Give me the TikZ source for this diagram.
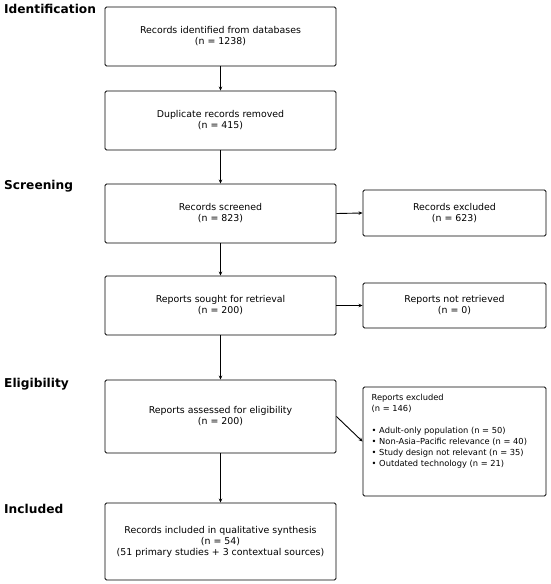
\documentclass[tikz,border=0pt]{standalone}
\usepackage{fontspec}
\setmainfont{DejaVu Sans}
\usetikzlibrary{arrows.meta}
\begin{document}
\begin{tikzpicture}[x=1pt,y=-1pt,
  box/.style={draw=black,line width=0.9pt,rounded corners=1.5pt,minimum width=231pt,align=center,inner sep=0pt,font=\fontsize{9.4}{11}\selectfont},
  sbox/.style={box,minimum width=183pt},
  arr/.style={-{Stealth[length=4pt,width=3.5pt]},line width=0.9pt},
  stage/.style={anchor=north west,inner sep=0pt,font=\fontsize{12.2}{14}\selectfont\bfseries}]
\useasboundingbox (0,0) rectangle (550,584);
\node[stage] (s1) at (4,4) {Identification};
\node[stage] (s2) at (4,180) {Screening};
\node[stage] (s3) at (4,378) {Eligibility};
\node[stage] (s4) at (4,504) {Included};

\node[box,minimum height=59pt] (b1) at (220.5,36.5) {Records identified from databases\\(n = 1238)};
\node[box,minimum height=59pt] (b2) at (220.5,120.5) {Duplicate records removed\\(n = 415)};
\node[box,minimum height=59pt] (b3) at (220.5,213.5) {Records screened\\(n = 823)};
\node[box,minimum height=59pt] (b4) at (220.5,305.5) {Reports sought for retrieval\\(n = 200)};
\node[box,minimum height=73pt] (b5) at (220.5,416.5) {Reports assessed for eligibility\\(n = 200)};
\node[box,minimum height=77pt] (b6) at (220.5,541.5) {Records included in qualitative synthesis\\(n = 54)\\(51 primary studies + 3 contextual sources)};

\node[sbox,minimum height=46pt] (r1) at (454.5,213) {Records excluded\\(n = 623)};
\node[sbox,minimum height=45pt] (r2) at (454.5,305.5) {Reports not retrieved\\(n = 0)};
\node[sbox,minimum height=109pt] (r3) at (454.5,441.5) {};
\node[anchor=north west,inner sep=0pt,align=left,font=\fontsize{8.3}{11}\selectfont] (r3t) at (371.5,393.5) {Reports excluded\\(n = 146)\\[11pt]• Adult-only population (n = 50)\\• Non-Asia–Pacific relevance (n = 40)\\• Study design not relevant (n = 35)\\• Outdated technology (n = 21)};

\draw[arr] (b1) -- (b2);
\draw[arr] (b2) -- (b3);
\draw[arr] (b3) -- (b4);
\draw[arr] (b4) -- (b5);
\draw[arr] (b5) -- (b6);
\draw[arr] (b3.east) -- (r1.west);
\draw[arr] (b4.east) -- (r2.west);
\draw[arr] (b5.east) -- (r3.west);
\end{tikzpicture}
\end{document}
